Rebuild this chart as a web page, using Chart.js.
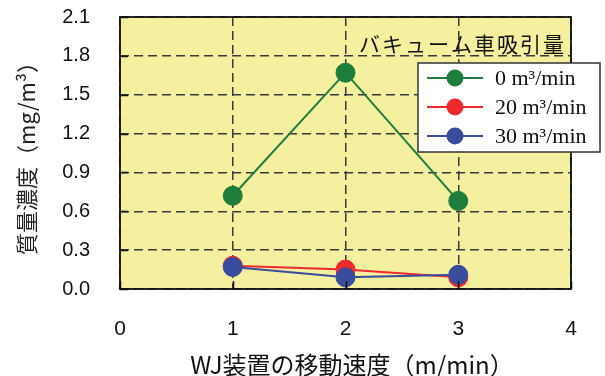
<!DOCTYPE html>
<html>
<head>
<meta charset="utf-8">
<script src="https://cdn.jsdelivr.net/npm/chart.js@4.4.0/dist/chart.umd.min.js"></script>
<style>
  html, body { margin: 0; padding: 0; background: #ffffff; }
  #c { display: block; }
</style>
</head>
<body>
<canvas id="c" width="605" height="376"></canvas>
<script>
// WJ speed (m/min) on x, mass concentration (mg/m3) on y
const speeds = [1, 2, 3];
const series0 = [0.72, 1.67, 0.68];   // 0 m3/min
const series20 = [0.18, 0.15, 0.09];  // 20 m3/min
const series30 = [0.17, 0.09, 0.11];  // 30 m3/min
const seriesLabels = ['0 m³/min', '20 m³/min', '30 m³/min'];
const seriesColors = ['#1f7d3c', '#ee2a2e', '#3a4c9e'];
const legendTitle = 'バキューム車吸引量';
const xTitle = 'WJ装置の移動速度（m/min）';
const yTitle = '質量濃度（mg/m³）';
const xTicks = [0, 1, 2, 3, 4];
const yTicks = [0, 0.3, 0.6, 0.9, 1.2, 1.5, 1.8, 2.1];

const CJK = '"Noto Sans CJK JP", "Noto Sans", sans-serif';
const SANS = '"Liberation Sans", Arial, sans-serif';
const SERIF = '"Liberation Serif", "Times New Roman", serif';

function pts(vals) { return speeds.map((x, i) => ({ x: x, y: vals[i] })); }

// later series sit on top of earlier ones
const dataSets = [series0, series20, series30].map((vals, i) => ({
  label: seriesLabels[i],
  data: pts(vals),
  order: 2 - i,
  borderColor: seriesColors[i],
  backgroundColor: seriesColors[i],
  pointBackgroundColor: seriesColors[i],
  pointBorderColor: seriesColors[i],
  pointBorderWidth: 1,
  pointRadius: 9.5,
  borderWidth: 2,
  tension: 0,
  clip: false
}));

// plot background, solid frame with inward ticks, x title and the boxed legend
const frameAndLegend = {
  id: 'frameAndLegend',
  beforeDraw(chart) {
    const { ctx, chartArea: a } = chart;
    ctx.save();
    ctx.fillStyle = '#f5f0a0';
    ctx.fillRect(a.left, a.top, a.right - a.left, a.bottom - a.top);
    ctx.restore();
  },
  afterDatasetsDraw(chart) {
    const { ctx, chartArea: a, scales } = chart;
    ctx.save();
    ctx.strokeStyle = '#111';
    ctx.lineWidth = 1.5;
    ctx.beginPath();
    yTicks.forEach(v => {
      const y = Math.round(scales.y.getPixelForValue(v)) + 0.5;
      ctx.moveTo(a.left, y); ctx.lineTo(a.left + 8, y);
    });
    xTicks.forEach(v => {
      const x = Math.round(scales.x.getPixelForValue(v)) + 0.5;
      ctx.moveTo(x, a.bottom); ctx.lineTo(x, a.bottom - 8);
    });
    ctx.stroke();
    ctx.lineWidth = 1.8;
    ctx.strokeRect(a.left, a.top, a.right - a.left, a.bottom - a.top);
    ctx.restore();
  },
  afterDraw(chart) {
    const { ctx } = chart;
    ctx.save();
    // x axis title
    ctx.fillStyle = '#111';
    ctx.font = '24px ' + CJK;
    ctx.textAlign = 'center';
    ctx.textBaseline = 'middle';
    ctx.fillText(xTitle, 352, 365);
    // legend heading
    ctx.font = '21px ' + CJK;
    ctx.textAlign = 'left';
    ctx.letterSpacing = '2px';
    ctx.fillText(legendTitle, 359, 44);
    ctx.letterSpacing = '0px';
    // legend box
    const bx = 418, by = 63, bw = 182, bh = 89;
    ctx.fillStyle = '#ffffff';
    ctx.fillRect(bx, by, bw, bh);
    ctx.strokeStyle = '#333';
    ctx.lineWidth = 1.5;
    ctx.strokeRect(bx, by, bw, bh);
    chart.data.datasets.forEach((ds, i) => {
      const cy = 78 + i * 29;
      ctx.strokeStyle = ds.borderColor;
      ctx.lineWidth = 2;
      ctx.beginPath();
      ctx.moveTo(427, cy); ctx.lineTo(483, cy);
      ctx.stroke();
      ctx.fillStyle = ds.borderColor;
      ctx.beginPath();
      ctx.arc(455, cy, 8.5, 0, Math.PI * 2);
      ctx.fill();
      ctx.fillStyle = '#111';
      ctx.font = '22px ' + SERIF;
      ctx.textBaseline = 'middle';
      ctx.fillText(ds.label, 495, cy + 1);
    });
    ctx.restore();
  }
};

new Chart(document.getElementById('c'), {
  type: 'line',
  data: { datasets: dataSets },
  options: {
    responsive: false,
    animation: false,
    devicePixelRatio: 1,
    layout: { padding: { top: 17, right: 34, left: 0, bottom: 0 } },
    plugins: { legend: { display: false }, tooltip: { enabled: false } },
    scales: {
      x: {
        type: 'linear',
        min: 0, max: 4,
        afterBuildTicks(scale) { scale.ticks = xTicks.map(v => ({ value: v })); },
        afterFit(scale) {
          scale.height = 87;
          scale.paddingLeft = 0; scale.paddingRight = 0;
        },
        ticks: {
          font: { family: SANS, size: 21 },
          color: '#111',
          padding: 28,
          callback: v => String(v)
        },
        grid: { color: '#3a3a3a', lineWidth: 1.5, drawTicks: false },
        border: { display: false, dash: [9, 5] },
        title: { display: false }
      },
      y: {
        type: 'linear',
        min: 0, max: 2.1,
        afterBuildTicks(scale) { scale.ticks = yTicks.map(v => ({ value: v })); },
        afterFit(scale) {
          scale.width = 120;
          scale.paddingTop = 0; scale.paddingBottom = 0;
        },
        ticks: {
          font: { family: SANS, size: 20 },
          color: '#111',
          padding: 30,
          callback: v => Number(v).toFixed(1)
        },
        grid: { color: '#3a3a3a', lineWidth: 1.5, drawTicks: false },
        border: { display: false, dash: [9, 5] },
        title: {
          display: true,
          text: yTitle,
          font: { family: CJK, size: 22, lineHeight: 1 },
          color: '#222',
          padding: { top: 16, bottom: 0 }
        }
      }
    }
  },
  plugins: [frameAndLegend]
});
</script>
</body>
</html>
